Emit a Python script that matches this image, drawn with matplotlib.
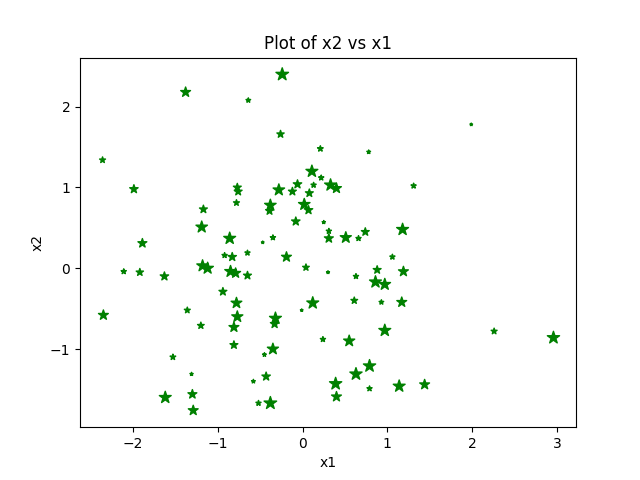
import numpy as np
import matplotlib
matplotlib.use("Agg")
import matplotlib.pyplot as plt

# datos
x1 = [-2.36, -1.99, -1.38, -0.64, -0.24, -0.26, 0.21, 0.78, 1.99, 1.31,
      -0.77, -0.76, -0.78, -1.17, -1.19, -1.89, -2.11, -1.92, -1.63, -2.35,
      -1.18, -1.12, -0.86, -0.92, -0.83, -0.85, -0.79, -0.65, -0.65, -0.94,
      -0.78, -0.77, -0.81, -0.81, -1.36, -1.20, -1.53, -1.31, -1.62, -1.30,
      -1.29, -0.38, -0.52, -0.58, -0.43, -0.45, -0.35, -0.32, -0.33, -0.47,
      -0.35, -0.38, -0.39, -0.28, -0.12, -0.06, -0.19, -0.08, 0.02, 0.07,
      0.11, 0.13, 0.08, 0.22, 0.33, 0.40, 0.25, 0.31, 0.31, 0.51,
      0.66, 0.74, 1.18, 0.04, 0.30, 0.63, 0.88, 1.06, 1.19, 0.86,
      0.97, -0.01, 0.12, 0.61, 0.93, 1.17, 0.24, 0.55, 0.97, 0.79,
      0.63, 0.39, 0.40, 0.79, 1.14, 1.44, 2.26, 2.96]
x2 = [1.34, 0.98, 2.18, 2.08, 2.40, 1.66, 1.48, 1.44, 1.78, 1.02,
      1.00, 0.95, 0.81, 0.73, 0.51, 0.31, -0.04, -0.05, -0.10, -0.58,
      0.03, 0.00, 0.37, 0.16, 0.14, -0.04, -0.06, -0.09, 0.19, -0.29,
      -0.43, -0.60, -0.73, -0.95, -0.52, -0.71, -1.10, -1.31, -1.60, -1.56,
      -1.76, -1.67, -1.67, -1.40, -1.34, -1.07, -1.00, -0.62, -0.69, 0.32,
      0.38, 0.78, 0.71, 0.97, 0.95, 1.04, 0.14, 0.58, 0.79, 0.72,
      1.20, 1.03, 0.93, 1.12, 1.03, 0.99, 0.57, 0.46, 0.37, 0.38,
      0.37, 0.45, 0.48, 0.01, -0.05, -0.10, -0.02, 0.14, -0.04, -0.17,
      -0.20, -0.52, -0.43, -0.40, -0.42, -0.42, -0.88, -0.90, -0.77, -1.21,
      -1.31, -1.43, -1.59, -1.49, -1.46, -1.44, -0.78, -0.86]
tamanos = [20, 40, 55, 12, 90, 30, 18, 8, 4, 15,
           35, 35, 20, 35, 75, 45, 15, 30, 40, 55,
           75, 75, 80, 15, 40, 75, 55, 35, 15, 35,
           65, 70, 55, 35, 20, 25, 18, 6, 80, 45,
           55, 90, 15, 8, 40, 8, 70, 80, 40, 4,
           15, 75, 35, 75, 35, 40, 55, 40, 75, 40,
           80, 15, 35, 15, 80, 55, 6, 15, 45, 70,
           15, 35, 80, 25, 5, 15, 35, 15, 55, 80,
           75, 4, 80, 25, 12, 55, 15, 70, 80, 85,
           85, 85, 55, 15, 80, 55, 20, 85]

fig, ax = plt.subplots(figsize=(6.4, 4.8))
ax.scatter(x1, x2, s=tamanos, marker='*', c='green')
ax.set_xlabel('x1')
ax.set_ylabel('x2')
ax.set_title('Plot of x2 vs x1')
plt.savefig('out.png', dpi=100)
